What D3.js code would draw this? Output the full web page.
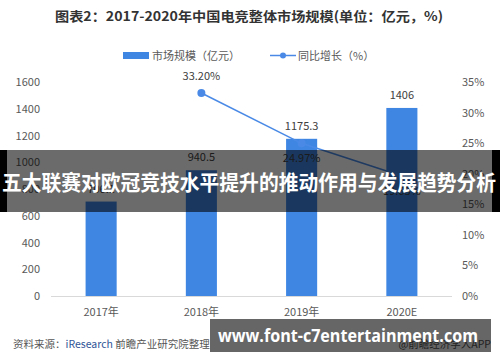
<!DOCTYPE html>
<html>
<head>
<meta charset="utf-8">
<script src="https://cdn.jsdelivr.net/npm/d3@7"></script>
<style>
  body { margin: 0; background: #fff; }
  svg { display: block; font-family: "Noto Sans CJK SC", "Noto Sans", sans-serif; }
</style>
</head>
<body>
<div id="chart"></div>
<script>
// chart values
var years = ["2017年", "2018年", "2019年", "2020E"];
var marketSize = [706.1, 940.5, 1175.3, 1406];
var growth = [null, 33.20, 24.97, 19.63];
var leftTicks = [0, 200, 400, 600, 800, 1000, 1200, 1400, 1600];
var rightTicks = [0, 5, 10, 15, 20, 25, 30, 35];

var W = 500, H = 362;
var barColor = "#3f86e3", lineColor = "#4a8ae6", axisText = "#595959";

var svg = d3.select("#chart").append("svg")
  .attr("width", W)
  .attr("height", H);

var x = d3.scaleBand().domain(years).range([51, 452]).paddingInner(0.69).paddingOuter(0.345);
var yL = d3.scaleLinear().domain([0, 1600]).range([296, 82]);
var yR = d3.scaleLinear().domain([0, 35]).range([296, 82]);

// title
svg.append("text")
  .attr("x", 249).attr("y", 21)
  .attr("text-anchor", "middle")
  .attr("textLength", 388).attr("lengthAdjust", "spacingAndGlyphs")
  .style("font-size", "13px").style("font-weight", "bold").style("fill", "#333")
  .text("图表2：2017-2020年中国电竞整体市场规模(单位：亿元，%)");

// legend
svg.append("rect").attr("x", 123).attr("y", 52).attr("width", 26).attr("height", 7).style("fill", barColor);
svg.append("text").attr("x", 152).attr("y", 60).style("font-size", "11px").style("fill", axisText).text("市场规模（亿元）");
svg.append("line").attr("x1", 270).attr("x2", 296).attr("y1", 55.5).attr("y2", 55.5)
  .style("stroke", lineColor).style("stroke-width", 1.5);
svg.append("circle").attr("cx", 283).attr("cy", 55.5).attr("r", 3).style("fill", lineColor);
svg.append("text").attr("x", 298).attr("y", 60).style("font-size", "11px").style("fill", axisText).text("同比增长（%）");

// axes
var leftAxis = svg.append("g").attr("transform", "translate(40,0)")
  .call(d3.axisLeft(yL).tickValues(leftTicks).tickSize(0).tickPadding(0).tickFormat(d3.format("d")));
var rightAxis = svg.append("g").attr("transform", "translate(462,0)")
  .call(d3.axisRight(yR).tickValues(rightTicks).tickSize(0).tickPadding(0).tickFormat(function(d){ return d + "%"; }));
var bottomAxis = svg.append("g").attr("transform", "translate(0,296)")
  .call(d3.axisBottom(x).tickSize(0).tickPadding(12));

[leftAxis, rightAxis, bottomAxis].forEach(function(g){
  g.select(".domain").remove();
  g.selectAll("text").style("font-size", "11px").style("fill", axisText)
    .style("font-family", "'Noto Sans CJK SC', sans-serif");
});

// bars
svg.selectAll("rect.bar")
  .data(marketSize)
  .enter()
  .append("rect")
  .attr("class", "bar")
  .attr("x", function(d, i){ return x(years[i]); })
  .attr("y", function(d){ return yL(d); })
  .attr("width", x.bandwidth())
  .attr("height", function(d){ return yL(0) - yL(d); })
  .style("fill", barColor);

// baseline
svg.append("line").attr("x1", 51).attr("x2", 452).attr("y1", 296.5).attr("y2", 296.5)
  .style("stroke", "#d9d9d9").style("stroke-width", 1);

svg.selectAll("text.barlabel")
  .data(marketSize)
  .enter()
  .append("text")
  .attr("class", "barlabel")
  .attr("x", function(d, i){ return x(years[i]) + x.bandwidth() / 2; })
  .attr("y", function(d){ return yL(d) - 9; })
  .attr("text-anchor", "middle")
  .style("font-size", "11px").style("fill", "#404040")
  .text(function(d){ return d; });

// growth line
var pts = growth.map(function(g, i){ return {year: years[i], v: g}; }).filter(function(p){ return p.v != null; });
var line = d3.line()
  .x(function(p){ return x(p.year) + x.bandwidth() / 2; })
  .y(function(p){ return yR(p.v); });

svg.append("path").datum(pts).attr("d", line)
  .style("fill", "none").style("stroke", lineColor).style("stroke-width", 1.5);

svg.selectAll("circle.pt")
  .data(pts)
  .enter()
  .append("circle")
  .attr("class", "pt")
  .attr("cx", function(p){ return x(p.year) + x.bandwidth() / 2; })
  .attr("cy", function(p){ return yR(p.v); })
  .attr("r", 4)
  .style("fill", lineColor);

svg.selectAll("text.ptlabel")
  .data(pts)
  .enter()
  .append("text")
  .attr("class", "ptlabel")
  .attr("x", function(p){ return x(p.year) + x.bandwidth() / 2; })
  .attr("y", function(p, i){ return i == 0 ? yR(p.v) - 13 : yR(p.v) + 19; })
  .attr("text-anchor", "middle")
  .style("font-size", "11px").style("fill", "#404040")
  .text(function(p){ return p.v.toFixed(2) + "%"; });

// source line
var src = svg.append("text").attr("x", 13).attr("y", 348).style("font-size", "10.5px").style("fill", "#555");
src.append("tspan").text("资料来源：");
src.append("tspan").style("fill", "#2f5597").text("iResearch");
src.append("tspan").text(" 前瞻产业研究院整理");
svg.append("text").attr("x", 491).attr("y", 348).attr("text-anchor", "end")
  .style("font-size", "10.5px").style("fill", "#555").text("@前瞻经济学人APP");

// overlay band with headline
svg.append("rect").attr("x", 0).attr("y", 150).attr("width", 7).attr("height", 62).style("fill", "#000");
svg.append("rect").attr("x", 492).attr("y", 150).attr("width", 8).attr("height", 62).style("fill", "#000");
svg.append("rect").attr("x", 7).attr("y", 150).attr("width", 485).attr("height", 62).style("fill", "rgba(0,0,0,0.58)");
svg.append("text").attr("x", 2).attr("y", 190)
  .attr("textLength", 494).attr("lengthAdjust", "spacingAndGlyphs")
  .style("font-size", "21px").style("font-weight", "bold").style("fill", "#fff")
  .text("五大联赛对欧冠竞技水平提升的推动作用与发展趋势分析");

// bottom overlay
svg.append("rect").attr("x", 210).attr("y", 319).attr("width", 281).attr("height", 33).style("fill", "rgba(0,0,0,0.6)");
svg.append("text").attr("x", 218).attr("y", 342)
  .attr("textLength", 260).attr("lengthAdjust", "spacingAndGlyphs")
  .style("font-size", "18px").style("font-weight", "bold").style("fill", "#fff")
  .style("font-family", "'Open Sans', 'DejaVu Sans', sans-serif")
  .text("www.font-c7entertainment.com");
</script>
</body>
</html>
